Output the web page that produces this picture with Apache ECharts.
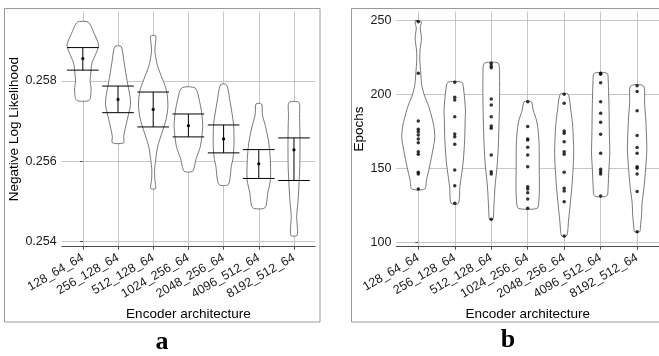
<!DOCTYPE html>
<html><head><meta charset="utf-8">
<script src="https://cdn.jsdelivr.net/npm/echarts@6/dist/echarts.min.js"></script>
<style>html,body{margin:0;padding:0;background:#fff}#c{width:659px;height:356px}</style>
</head><body><div id="c"></div>
<script>
// ---------- data ----------
const categories = ['128_64_64','256_128_64','512_128_64','1024_256_64','2048_256_64','4096_512_64','8192_512_64'];

// Panel a: Negative log likelihood – mean and error bar bounds
const nllMean  = [0.258553, 0.257537, 0.257289, 0.256885, 0.256555, 0.255936, 0.256283];
const nllUpper = [0.258825, 0.257869, 0.257720, 0.257175, 0.256902, 0.256290, 0.256580];
const nllLower = [0.258265, 0.257207, 0.256853, 0.256605, 0.256208, 0.255572, 0.255522];
const nllTicks = [0.254, 0.256, 0.258];

// Panel a violin density profiles: [value, half-width in category units]
const nllViolin1 = [[0.259455,0.156],[0.259182,0.318],[0.258892,0.449],[0.258686,0.378],[0.258439,0.261],[0.258149,0.222],[0.257983,0.207],[0.257777,0.236],[0.257515,0.179]];
const nllViolin2 = [[0.258850,0.088],[0.258439,0.176],[0.257983,0.261],[0.257611,0.341],[0.257405,0.355],[0.257200,0.307],[0.256868,0.219],[0.256620,0.162],[0.256456,0.159]];
const nllViolin3 = [[0.259115,0.071],[0.258934,0.063],[0.258743,0.048],[0.258520,0.085],[0.258354,0.128],[0.258025,0.270],[0.257735,0.384],[0.257363,0.418],[0.257034,0.364],[0.256704,0.247],[0.256372,0.128],[0.256042,0.071],[0.255795,0.040],[0.255547,0.045],[0.255324,0.071]];
const nllViolin4 = [[0.257819,0.193],[0.257447,0.327],[0.257157,0.384],[0.256848,0.406],[0.256372,0.341],[0.256042,0.213],[0.255752,0.122]];
const nllViolin5 = [[0.257901,0.085],[0.257447,0.190],[0.256910,0.284],[0.256414,0.295],[0.256092,0.270],[0.255876,0.219],[0.255423,0.136]];
const nllViolin6 = [[0.257423,0.080],[0.257157,0.102],[0.256868,0.190],[0.256456,0.284],[0.256042,0.327],[0.255547,0.332],[0.255217,0.256],[0.254846,0.176]];
const nllViolin7 = [[0.257462,0.142],[0.257157,0.156],[0.256538,0.170],[0.255876,0.165],[0.255051,0.119],[0.254637,0.077],[0.254159,0.091]];

// Panel b: epochs per run
const epochs1 = [249.3, 214.4, 182.1, 176.5, 174.9, 172.6, 169.9, 167.4, 161.3, 159.6, 147.4, 146.2, 136.1];
const epochs2 = [208.3, 198.1, 196.3, 185.0, 173.3, 171.5, 166.3, 149.0, 138.3, 126.4];
const epochs3 = [221.2, 219.5, 218.2, 197.0, 192.9, 185.0, 178.7, 177.2, 159.1, 147.8, 146.2, 115.6];
const epochs4 = [195.2, 178.3, 169.9, 169.2, 164.3, 159.1, 151.2, 137.6, 136.1, 133.6, 129.3, 123.0];
const epochs5 = [200.2, 194.1, 175.3, 173.8, 168.1, 161.3, 159.6, 147.4, 136.6, 134.7, 127.5, 104.3];
const epochs6 = [214.4, 213.7, 208.0, 195.2, 187.3, 181.2, 173.1, 160.2, 149.4, 147.8, 146.2, 131.3];
const epochs7 = [206.0, 202.0, 189.1, 172.2, 164.1, 160.2, 151.2, 150.1, 146.2, 134.3, 107.2];
const epochTicks = [100, 150, 200, 250];

// Panel b violin density profiles: [value, half-width in category units]
const epViolin1 = [[249.33,0.082],[245.06,0.054],[238.29,0.087],[230.17,0.049],[223.40,0.041],[214.40,0.068],[206.48,0.095],[199.71,0.163],[192.94,0.272],[186.17,0.353],[179.40,0.421],[171.28,0.454],[162.48,0.399],[150.97,0.307],[142.17,0.226],[136.08,0.177]];
const epViolin2 = [[208.31,0.190],[203.09,0.245],[189.55,0.293],[182.79,0.285],[169.25,0.272],[155.71,0.236],[148.94,0.204],[137.64,0.141],[126.40,0.101]];
const epViolin3 = [[221.17,0.190],[213.25,0.226],[196.30,0.228],[182.79,0.217],[162.48,0.190],[150.97,0.158],[137.43,0.103],[121.86,0.068],[115.57,0.049]];
const epViolin4 = [[195.17,0.098],[189.55,0.149],[182.79,0.239],[176.02,0.285],[165.86,0.313],[152.33,0.315],[137.64,0.321],[128.63,0.307],[123.01,0.258]];
const epViolin5 = [[200.18,0.106],[189.55,0.182],[179.40,0.231],[162.48,0.261],[152.33,0.250],[137.64,0.212],[125.25,0.163],[115.10,0.122],[104.26,0.068]];
const epViolin6 = [[214.40,0.177],[209.87,0.207],[189.55,0.231],[173.99,0.239],[160.45,0.250],[148.94,0.226],[137.43,0.204],[131.34,0.168]];
const epViolin7 = [[205.80,0.177],[194.29,0.204],[182.79,0.239],[162.48,0.266],[148.94,0.231],[137.43,0.190],[126.60,0.136],[118.48,0.122],[110.36,0.090],[107.18,0.071]];

// ---------- build ----------
const nllViolins = [nllViolin1,nllViolin2,nllViolin3,nllViolin4,nllViolin5,nllViolin6,nllViolin7];
const epViolins = [epViolin1,epViolin2,epViolin3,epViolin4,epViolin5,epViolin6,epViolin7];
const epochs = [epochs1,epochs2,epochs3,epochs4,epochs5,epochs6,epochs7];
const idx = categories.map((c,i)=>i);

const X_MIN = -0.6, X_MAX = 6.6;
const NLL_MIN = 0.253876, NLL_MAX = 0.259722;
const EP_MIN = 97.02, EP_MAX = 256.2;

const FONT = 'Liberation Sans';
const GRID_COLOR = '#c6c6c6';
const AXIS_COLOR = '#4d4d4d';

function violinRender(profiles){
  return function(params, api){
    const i = api.value(0);
    const prof = profiles[i];
    const right = prof.map(p => api.coord([i + p[1], p[0]]));
    const left = prof.slice().reverse().map(p => api.coord([i - p[1], p[0]]));
    return {type:'polygon', shape:{points: right.concat(left), smooth: 0.25},
      style:{fill:'#fff', stroke:'#555', lineWidth:0.8}};
  };
}
function errRender(params, api){
  const i = api.value(0);
  const up = api.coord([i, api.value(2)]);
  const lo = api.coord([i, api.value(3)]);
  const mid = api.coord([i, api.value(1)]);
  const l = api.coord([i-0.45, api.value(2)])[0];
  const r = api.coord([i+0.45, api.value(2)])[0];
  const st = {stroke:'#000', lineWidth:1};
  return {type:'group', children:[
    {type:'line', shape:{x1:up[0], y1:up[1], x2:lo[0], y2:lo[1]}, style:st},
    {type:'line', shape:{x1:l, y1:up[1], x2:r, y2:up[1]}, style:st},
    {type:'line', shape:{x1:l, y1:lo[1], x2:r, y2:lo[1]}, style:st},
    {type:'circle', shape:{cx:mid[0], cy:mid[1], r:1.6}, style:{fill:'#000'}}
  ]};
}

function xAxisCfg(gridIndex){
  return {
    type:'value', gridIndex, min:X_MIN, max:X_MAX,
    splitLine:{show:true, lineStyle:{color:GRID_COLOR, width:1}},
    axisLine:{show:true, lineStyle:{color:AXIS_COLOR, width:1}},
    axisTick:{show:true, customValues:idx, length:3, lineStyle:{color:AXIS_COLOR}},
    axisLabel:{customValues:idx, formatter:v=>categories[Math.round(v)], rotate:30, margin:10,
      fontFamily:FONT, fontSize:12.5, color:'#1a1a1a'},
    name:'Encoder architecture', nameLocation:'middle', nameGap:58,
    nameTextStyle:{fontFamily:FONT, fontSize:13.5, color:'#000'}
  };
}
function yAxisCfg(gridIndex, min, max, ticks, fmt, name, gap){
  return {type:'value', gridIndex, min, max,
    splitLine:{show:true, lineStyle:{color:GRID_COLOR, width:1}}, axisLine:{show:false},
    axisTick:{show:true, customValues:ticks, length:3, lineStyle:{color:AXIS_COLOR}},
    axisLabel:{customValues:ticks, formatter:fmt, margin:5, fontFamily:FONT, fontSize:12.5, color:'#1a1a1a'},
    name, nameLocation:'middle', nameGap:gap,
    nameTextStyle:{fontFamily:FONT, fontSize:13.5, color:'#000'}};
}

const option = {
  animation:false,
  backgroundColor:'#fff',
  grid:[
    {left:61.7, top:11.5, width:253.4, height:235.2},
    {left:396.4, top:11.5, width:265, height:235.2}
  ],
  xAxis:[xAxisCfg(0), xAxisCfg(1)],
  yAxis:[
    yAxisCfg(0, NLL_MIN, NLL_MAX, nllTicks, v=>v.toFixed(3), 'Negative Log Likelihood', 40),
    yAxisCfg(1, EP_MIN, EP_MAX, epochTicks, v=>String(Math.round(v)), 'Epochs', 29)
  ],
  graphic:[
    {type:'rect', shape:{x:4.5, y:8.5, width:315.5, height:313.5}, style:{fill:'none', stroke:'#999', lineWidth:1}, z:-10, silent:true},
    {type:'rect', shape:{x:351.5, y:8.5, width:320, height:313.5}, style:{fill:'none', stroke:'#999', lineWidth:1}, z:-10, silent:true},
    {type:'text', x:162, y:342, style:{text:'a', font:'bold 26px "Liberation Serif"', fill:'#000', textAlign:'center', textVerticalAlign:'middle'}},
    {type:'text', x:508, y:340, style:{text:'b', font:'bold 26px "Liberation Serif"', fill:'#000', textAlign:'center', textVerticalAlign:'middle'}}
  ],
  series:[
    {type:'custom', xAxisIndex:0, yAxisIndex:0, data:idx.map(i=>[i]), renderItem:violinRender(nllViolins), z:3, silent:true},
    {type:'custom', xAxisIndex:1, yAxisIndex:1, data:idx.map(i=>[i]), renderItem:violinRender(epViolins), z:3, silent:true},
    {type:'custom', xAxisIndex:0, yAxisIndex:0, data:idx.map(i=>[i, nllMean[i], nllUpper[i], nllLower[i]]), renderItem:errRender, z:5, silent:true},
    {type:'scatter', xAxisIndex:1, yAxisIndex:1, data:[].concat(...epochs.map((arr,i)=>arr.map(v=>[i,v]))),
      symbolSize:3.5, itemStyle:{color:'#000'}, z:5, silent:true}
  ]
};
const chart = echarts.init(document.getElementById('c'), null, {renderer:'canvas'});
chart.setOption(option);
</script></body></html>
